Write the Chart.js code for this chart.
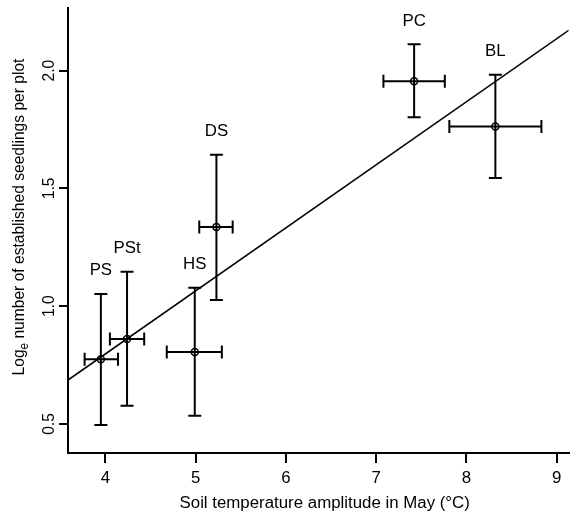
<!DOCTYPE html>
<html lang="en">
<head>
<meta charset="UTF-8">
<title>Seedlings vs soil temperature amplitude</title>
<style>
  body { margin: 0; background: #ffffff; }
  #wrap { width: 574px; height: 514px; }
</style>
</head>
<body>
<div id="wrap"><canvas id="seedChart" width="574" height="514"></canvas></div>
<script src="https://cdn.jsdelivr.net/npm/chart.js"></script>
<script>
// sites and values
const siteNames = ['PS', 'PSt', 'HS', 'DS', 'PC', 'BL'];
const tempAmp = [3.95, 4.24, 4.99, 5.23, 7.42, 8.32];
const tempLow = [3.77, 4.05, 4.68, 5.04, 7.08, 7.81];
const tempHigh = [4.14, 4.43, 5.29, 5.41, 7.76, 8.83];
const logSeedlings = [0.775, 0.861, 0.806, 1.336, 1.955, 1.763];
const seedLow = [0.496, 0.578, 0.535, 1.027, 1.802, 1.544];
const seedHigh = [1.052, 1.146, 1.079, 1.643, 2.112, 1.983];

// fitted line, end points
const fitX = [3.586, 9.143];
const fitY = [0.687, 2.174];

const xTicks = [4, 5, 6, 7, 8, 9];
const yTicks = [0.5, 1.0, 1.5, 2.0];

const FONT = '"Liberation Sans", Arial, sans-serif';
const FS = 15.6;      // font size
const STRETCH = 1.08; // text in the figure is a bit wider than it is tall

const points = tempAmp.map((x, i) => ({ x: x, y: logSeedlings[i] }));
const fitLine = fitX.map((x, i) => ({ x: x, y: fitY[i] }));

// horizontal text, centred on x, baseline y
function hText(ctx, str, x, y) {
    ctx.save();
    ctx.translate(x, y);
    ctx.scale(STRETCH, 1);
    ctx.font = FS + 'px ' + FONT;
    ctx.textAlign = 'center';
    ctx.textBaseline = 'alphabetic';
    ctx.fillText(str, 0, 0);
    ctx.restore();
}

// error bars and site labels
const extras = {
    id: 'extras',
    afterDatasetsDraw(chart) {
        const ctx = chart.ctx;
        const xs = chart.scales.x;
        const ys = chart.scales.y;
        const cap = 6.5;
        ctx.save();
        ctx.strokeStyle = '#000';
        ctx.fillStyle = '#000';
        ctx.lineWidth = 2;
        for (let i = 0; i < siteNames.length; i++) {
            const px = xs.getPixelForValue(tempAmp[i]);
            const py = ys.getPixelForValue(logSeedlings[i]);
            const top = ys.getPixelForValue(seedHigh[i]);
            const bot = ys.getPixelForValue(seedLow[i]);
            const lft = xs.getPixelForValue(tempLow[i]);
            const rgt = xs.getPixelForValue(tempHigh[i]);
            ctx.beginPath();
            ctx.moveTo(px, top); ctx.lineTo(px, bot);
            ctx.moveTo(px - cap, top); ctx.lineTo(px + cap, top);
            ctx.moveTo(px - cap, bot); ctx.lineTo(px + cap, bot);
            ctx.moveTo(lft, py); ctx.lineTo(rgt, py);
            ctx.moveTo(lft, py - cap); ctx.lineTo(lft, py + cap);
            ctx.moveTo(rgt, py - cap); ctx.lineTo(rgt, py + cap);
            ctx.stroke();
            hText(ctx, siteNames[i], px, top - 18.5);
        }
        ctx.restore();
    },
    afterDraw(chart) {
        const ctx = chart.ctx;
        const xs = chart.scales.x;
        const ys = chart.scales.y;
        ctx.save();
        ctx.fillStyle = '#000';

        // x tick labels
        xTicks.forEach(v => hText(ctx, String(v), xs.getPixelForValue(v), 482.7));

        // rotated y tick labels
        yTicks.forEach(v => {
            ctx.save();
            ctx.translate(53.5, ys.getPixelForValue(v));
            ctx.scale(STRETCH, 1);
            ctx.rotate(-Math.PI / 2);
            ctx.font = FS + 'px ' + FONT;
            ctx.textAlign = 'center';
            ctx.textBaseline = 'alphabetic';
            ctx.fillText(v.toFixed(1), 0, 0);
            ctx.restore();
        });

        // x title
        hText(ctx, 'Soil temperature amplitude in May (\u00B0C)', 324.7, 508);

        // y title with subscript e
        const a = 'Log', sub = 'e', b = ' number of established seedlings per plot';
        const subFS = FS * 0.75;
        ctx.font = FS + 'px ' + FONT;
        const wa = ctx.measureText(a).width;
        const wb = ctx.measureText(b).width;
        ctx.font = subFS + 'px ' + FONT;
        const ws = ctx.measureText(sub).width;
        const total = wa + ws + wb;
        ctx.translate(24, 217);
        ctx.scale(STRETCH, 1);
        ctx.rotate(-Math.PI / 2);
        ctx.textAlign = 'left';
        ctx.textBaseline = 'alphabetic';
        const x0 = -total / 2;
        ctx.font = FS + 'px ' + FONT;
        ctx.fillText(a, x0, 0);
        ctx.font = subFS + 'px ' + FONT;
        ctx.fillText(sub, x0 + wa, 4);
        ctx.font = FS + 'px ' + FONT;
        ctx.fillText(b, x0 + wa + ws, 0);
        ctx.restore();
    }
};

new Chart(document.getElementById('seedChart'), {
    type: 'scatter',
    data: {
        datasets: [
            {
                label: 'Fit',
                type: 'line',
                data: fitLine,
                borderColor: '#000',
                borderWidth: 1.6,
                pointRadius: 0,
                fill: false,
                tension: 0
            },
            {
                label: 'Sites',
                data: points,
                pointStyle: 'circle',
                pointRadius: 3.5,
                pointBorderWidth: 1.5,
                pointBorderColor: '#000',
                pointBackgroundColor: 'rgba(0,0,0,0)'
            }
        ]
    },
    options: {
        responsive: false,
        animation: false,
        devicePixelRatio: 1,
        layout: { padding: { top: 8, right: 0, left: 0, bottom: 0 } },
        plugins: {
            legend: { display: false },
            tooltip: { enabled: false }
        },
        scales: {
            x: {
                type: 'linear',
                min: 3.586,
                max: 9.13,
                afterBuildTicks: s => { s.ticks = xTicks.map(v => ({ value: v })); },
                afterFit: s => { s.height = 61; },
                border: { display: true, color: '#000', width: 2 },
                grid: { drawOnChartArea: false, drawTicks: true, tickLength: 10, color: '#000', lineWidth: 2 },
                ticks: { display: false }
            },
            y: {
                type: 'linear',
                min: 0.377,
                max: 2.266,
                afterBuildTicks: s => { s.ticks = yTicks.map(v => ({ value: v })); },
                afterFit: s => { s.width = 68; },
                border: { display: true, color: '#000', width: 2 },
                grid: { drawOnChartArea: false, drawTicks: true, tickLength: 9, color: '#000', lineWidth: 2 },
                ticks: { display: false }
            }
        }
    },
    plugins: [extras]
});
</script>
</body>
</html>
